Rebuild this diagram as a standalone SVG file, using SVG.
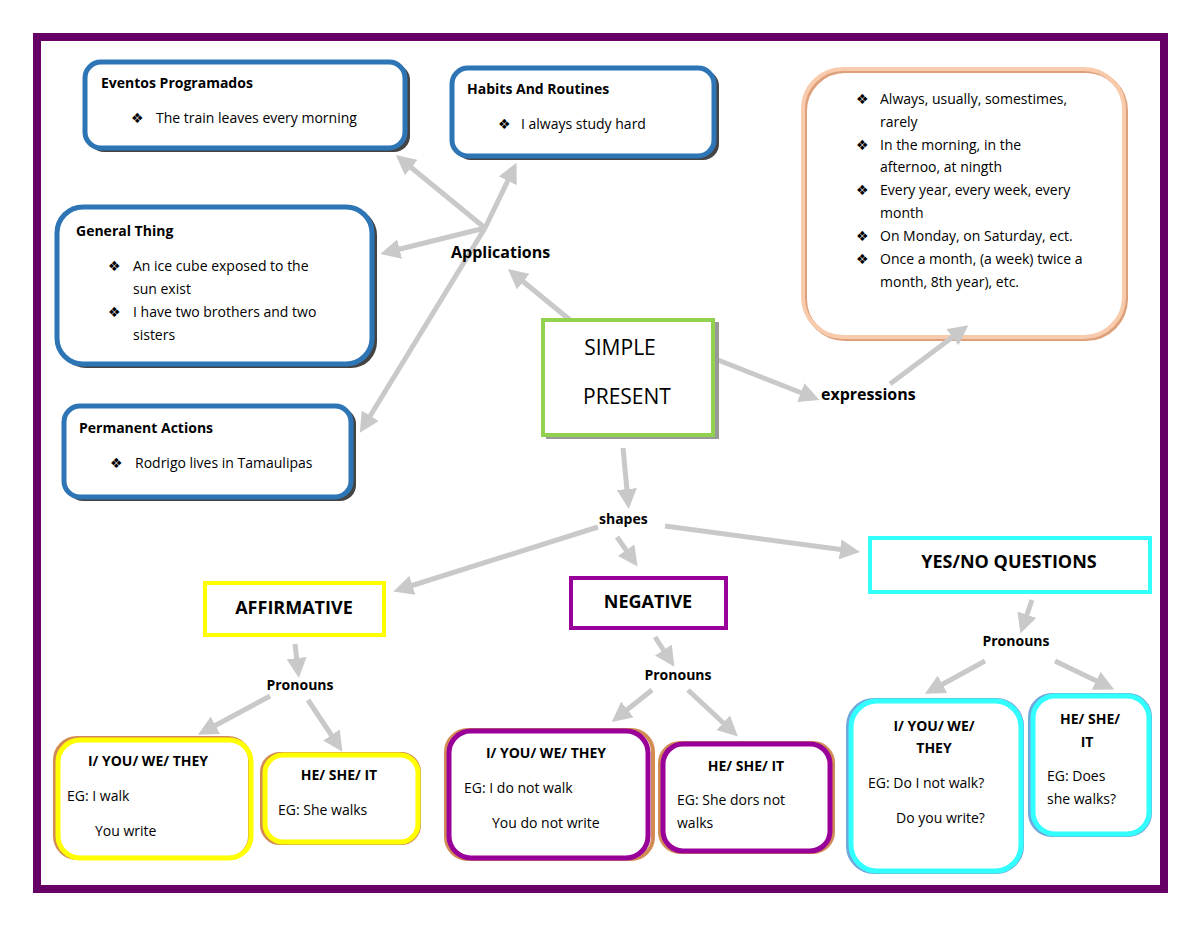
<svg xmlns="http://www.w3.org/2000/svg" width="1200" height="927" viewBox="0 0 1200 927">
<style>
text{font-family:"Comic Sans MS","Open Sans","DejaVu Sans",sans-serif;fill:#000}
.t{font-size:14px}
.b{font-size:14px;font-weight:bold}
.h{font-size:16px;font-weight:bold}
.c{stroke:#C9C9C9;stroke-width:5;fill:none;marker-end:url(#ah)}
.box{fill:#fff}
</style>
<defs>
<marker id="ah" viewBox="0 0 10 10" refX="6" refY="5" markerWidth="4" markerHeight="4" orient="auto" markerUnits="strokeWidth"><path d="M0,0 L10,5 L0,10 z" fill="#C9C9C9"/></marker>
</defs>
<rect width="1200" height="927" fill="#fff"/>
<rect x="37" y="37" width="1127" height="852" fill="none" stroke="#660066" stroke-width="8"/>
<g id="connectors">
<line class="c" x1="570" y1="320" x2="514" y2="274"/>
<line class="c" x1="485" y1="228" x2="402" y2="160"/>
<line class="c" x1="485" y1="228" x2="513" y2="170"/>
<line class="c" x1="485" y1="228" x2="388" y2="252"/>
<line class="c" x1="485" y1="228" x2="364" y2="426"/>
<line class="c" x1="718" y1="360" x2="812" y2="397"/>
<line class="c" x1="623" y1="448" x2="628" y2="501"/>
<line class="c" x1="598" y1="527" x2="401" y2="589"/>
<line class="c" x1="617" y1="537" x2="633" y2="560"/>
<line class="c" x1="665" y1="526" x2="852" y2="551"/>
<line class="c" x1="295" y1="644" x2="298" y2="670"/>
<line class="c" x1="270" y1="696" x2="205" y2="731"/>
<line class="c" x1="308" y1="700" x2="338" y2="745"/>
<line class="c" x1="655" y1="637" x2="670" y2="660"/>
<line class="c" x1="652" y1="690" x2="618" y2="717"/>
<line class="c" x1="688" y1="690" x2="732" y2="731"/>
<line class="c" x1="1032" y1="600" x2="1023" y2="626"/>
<line class="c" x1="985" y1="661" x2="932" y2="690"/>
<line class="c" x1="1055" y1="661" x2="1107" y2="686"/>
</g>
<g id="eventos">
<rect x="88" y="64" width="322" height="88" rx="16" fill="#444"/>
<rect class="box" x="85" y="62" width="320" height="86" rx="16" stroke="#2E75B6" stroke-width="5"/>
<text class="b" x="101" y="88">Eventos Programados</text>
<text class="t" x="131" y="123"><tspan>❖</tspan><tspan x="156">The train leaves every morning</tspan></text>
</g>
<g id="habits">
<rect x="455" y="70" width="264" height="90" rx="16" fill="#444"/>
<rect class="box" x="452" y="68" width="262" height="88" rx="16" stroke="#2E75B6" stroke-width="5"/>
<text class="b" x="467" y="94">Habits And Routines</text>
<text class="t" x="498" y="129"><tspan>❖</tspan><tspan x="521">I always study hard</tspan></text>
</g>
<g id="general">
<rect x="60" y="209" width="317" height="159" rx="26" fill="#444"/>
<rect class="box" x="57" y="207" width="315" height="157" rx="26" stroke="#2E75B6" stroke-width="5"/>
<text class="b" x="76" y="236">General Thing</text>
<text class="t" x="108" y="271"><tspan>❖</tspan><tspan x="133">An ice cube exposed to the</tspan></text>
<text class="t" x="133" y="294">sun exist</text>
<text class="t" x="108" y="317"><tspan>❖</tspan><tspan x="133">I have two brothers and two</tspan></text>
<text class="t" x="133" y="340">sisters</text>
</g>
<g id="permanent">
<rect x="67" y="408" width="289" height="93" rx="16" fill="#444"/>
<rect class="box" x="64" y="406" width="287" height="91" rx="16" stroke="#2E75B6" stroke-width="5"/>
<text class="b" x="79" y="433">Permanent Actions</text>
<text class="t" x="110" y="468"><tspan>❖</tspan><tspan x="135">Rodrigo lives in Tamaulipas</tspan></text>
</g>
<g id="expressions-box">
<rect class="box" x="805" y="71" width="321" height="268" rx="40" stroke="#DDA07A" stroke-width="4"/>
<rect x="803" y="69" width="321" height="268" rx="40" fill="none" stroke="#F8CBAD" stroke-width="4"/>
<text class="t" x="856" y="104"><tspan>❖</tspan><tspan x="880">Always, usually, somestimes,</tspan></text>
<text class="t" x="880" y="127">rarely</text>
<text class="t" x="856" y="150"><tspan>❖</tspan><tspan x="880">In the morning, in the</tspan></text>
<text class="t" x="880" y="172">afternoo, at ningth</text>
<text class="t" x="856" y="195"><tspan>❖</tspan><tspan x="880">Every year, every week, every</tspan></text>
<text class="t" x="880" y="218">month</text>
<text class="t" x="856" y="241"><tspan>❖</tspan><tspan x="880">On Monday, on Saturday, ect.</tspan></text>
<text class="t" x="856" y="264"><tspan>❖</tspan><tspan x="880">Once a month, (a week) twice a</tspan></text>
<text class="t" x="880" y="287">month, 8th year), etc.</text>
</g>
<g id="applications"><text class="h" x="451" y="258">Applications</text></g>
<g id="expressions"><text class="h" x="821" y="400">expressions</text></g>
<g id="shapes"><text class="b" x="599" y="524">shapes</text></g>
<g id="simple-present">
<rect x="546" y="322" width="173" height="117" fill="#999"/>
<rect class="box" x="543" y="320" width="170" height="115" stroke="#92D050" stroke-width="4"/>
<text x="620" y="355" text-anchor="middle" style="font-size:21px">SIMPLE</text>
<text x="627" y="404" text-anchor="middle" style="font-size:21px">PRESENT</text>
</g>
<g id="yesno">
<rect class="box" x="870" y="538" width="280" height="54" stroke="#33FFFF" stroke-width="4"/>
<text class="h" x="1009" y="568" text-anchor="middle" style="font-size:18px">YES/NO QUESTIONS</text>
</g>
<g id="affirmative">
<rect class="box" x="205" y="583" width="179" height="52" stroke="#FFFF00" stroke-width="4"/>
<text class="h" x="294" y="614" text-anchor="middle" style="font-size:18px">AFFIRMATIVE</text>
</g>
<g id="negative">
<rect class="box" x="571" y="578" width="155" height="50" stroke="#990099" stroke-width="4"/>
<text class="h" x="648" y="608" text-anchor="middle" style="font-size:18px">NEGATIVE</text>
</g>
<g id="pron1"><text class="b" x="300" y="690" text-anchor="middle">Pronouns</text></g>
<g id="pron2"><text class="b" x="678" y="680" text-anchor="middle">Pronouns</text></g>
<g id="pron3"><text class="b" x="1016" y="646" text-anchor="middle">Pronouns</text></g>
<g id="aff-plural">
<rect class="box" x="55" y="738" width="195" height="120" rx="22" stroke="#D38B55" stroke-width="4"/>
<rect x="58" y="740" width="193" height="118" rx="22" fill="none" stroke="#FFFF00" stroke-width="5"/>
<text class="b" x="148" y="766" text-anchor="middle">I/ YOU/ WE/ THEY</text>
<text class="t" x="67" y="801">EG: I walk</text>
<text class="t" x="95" y="836">You write</text>
</g>
<g id="aff-single">
<rect class="box" x="262" y="754" width="157" height="89" rx="18" stroke="#D38B55" stroke-width="4"/>
<rect x="265" y="755" width="153" height="87" rx="18" fill="none" stroke="#FFFF00" stroke-width="5"/>
<text class="b" x="339" y="780" text-anchor="middle">HE/ SHE/ IT</text>
<text class="t" x="278" y="815">EG: She walks</text>
</g>
<g id="neg-plural">
<rect class="box" x="446" y="730" width="207" height="129" rx="22" stroke="#D38B55" stroke-width="4"/>
<rect x="449" y="731" width="199" height="127" rx="22" fill="none" stroke="#990099" stroke-width="5"/>
<text class="b" x="546" y="758" text-anchor="middle">I/ YOU/ WE/ THEY</text>
<text class="t" x="464" y="793">EG: I do not walk</text>
<text class="t" x="492" y="828">You do not write</text>
</g>
<g id="neg-single">
<rect class="box" x="660" y="743" width="173" height="109" rx="20" stroke="#D38B55" stroke-width="4"/>
<rect x="663" y="744" width="167" height="107" rx="20" fill="none" stroke="#990099" stroke-width="5"/>
<text class="b" x="746" y="771" text-anchor="middle">HE/ SHE/ IT</text>
<text class="t" x="677" y="805">EG: She dors not</text>
<text class="t" x="677" y="828">walks</text>
</g>
<g id="q-plural">
<rect class="box" x="848" y="700" width="174" height="172" rx="26" stroke="#6FA8DC" stroke-width="4"/>
<rect x="851" y="701" width="170" height="170" rx="26" fill="none" stroke="#33FFFF" stroke-width="5"/>
<text class="b" x="934" y="731" text-anchor="middle">I/ YOU/ WE/</text>
<text class="b" x="934" y="753" text-anchor="middle">THEY</text>
<text class="t" x="868" y="788">EG: Do I not walk?</text>
<text class="t" x="896" y="823">Do you write?</text>
</g>
<g id="q-single">
<rect class="box" x="1030" y="695" width="120" height="140" rx="22" stroke="#6FA8DC" stroke-width="4"/>
<rect x="1033" y="696" width="116" height="138" rx="22" fill="none" stroke="#33FFFF" stroke-width="5"/>
<text class="b" x="1090" y="724" text-anchor="middle">HE/ SHE/</text>
<text class="b" x="1087" y="747" text-anchor="middle">IT</text>
<text class="t" x="1047" y="781">EG: Does</text>
<text class="t" x="1047" y="804">she walks?</text>
</g>
<g id="connector-top"><line class="c" x1="890" y1="384" x2="962" y2="330"/></g>
</svg>
